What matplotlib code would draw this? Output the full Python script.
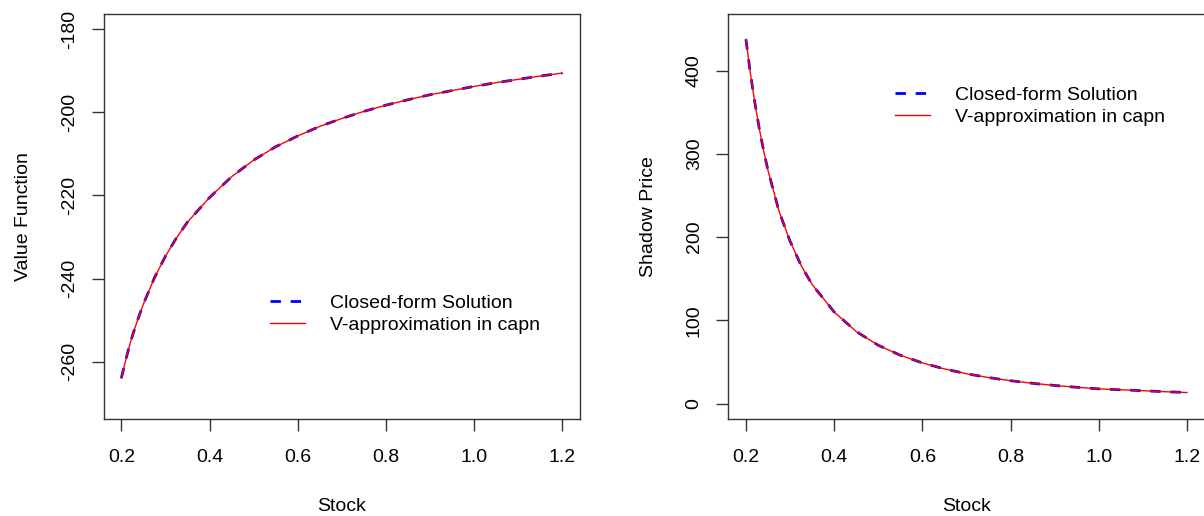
import matplotlib
matplotlib.use("Agg")
import matplotlib.pyplot as plt

plt.rcParams['font.family'] = ['Liberation Sans', 'DejaVu Sans']
plt.rcParams['font.size'] = 14
plt.rcParams['lines.scale_dashes'] = False
plt.rcParams['axes.unicode_minus'] = False

# values
stock = [0.2, 0.21, 0.22, 0.23, 0.24, 0.25, 0.275, 0.3, 0.325, 0.35, 0.4,
         0.45, 0.5, 0.55, 0.6, 0.65, 0.7, 0.75, 0.8, 0.85, 0.9, 0.95, 1.0,
         1.05, 1.1, 1.15, 1.2]

value_closed = [-263.9, -259.5, -255.5, -252.1, -249.0, -246.1, -239.8, -234.6,
                -230.2, -226.4, -220.5, -215.5, -211.5, -208.3, -205.7, -203.4,
                -201.5, -199.8, -198.3, -197.0, -195.8, -194.8, -193.8, -192.9,
                -192.1, -191.3, -190.6]
value_capn = value_closed

price_closed = [437.6, 397, 362, 331, 304, 280, 231, 195, 166, 143, 110, 86.5,
                70, 58, 48.8, 41.6, 35.8, 31.2, 27.4, 24.3, 21.7, 19.5, 17.6,
                16.5, 15.4, 14.2, 13.2]
price_capn = price_closed

x_ticks = [0.2, 0.4, 0.6, 0.8, 1.0, 1.2]
value_ticks = [-260, -240, -220, -200, -180]
price_ticks = [0, 100, 200, 300, 400]

legend_labels = ["Closed-form Solution", "V-approximation in capn"]

W, H = 1204, 516
fig = plt.figure(figsize=(W / 100, H / 100), dpi=100)
ax1 = fig.add_axes([103.7 / W, 1 - 418.5 / H, 476.3 / W, 404.5 / H])
ax2 = fig.add_axes([728.3 / W, 1 - 418.5 / H, 476.3 / W, 404.5 / H])


def style(ax, yticks):
    for sp in ax.spines.values():
        sp.set_color('#333333')
        sp.set_linewidth(1.0)
    ax.set_xticks(x_ticks)
    ax.set_xticklabels([f"{t:.1f}" for t in x_ticks])
    ax.set_yticks(yticks)
    ax.tick_params(direction='out', length=8.4, width=1.0, color='#333333',
                   labelsize=14)
    ax.tick_params(axis='x', pad=13.5)
    ax.tick_params(axis='y', pad=10)
    for lab in ax.get_yticklabels():
        lab.set_rotation(90)
        lab.set_va('center')


def draw(ax, closed, capn, ylim, yticks, ylabel, leg_xy):
    ax.plot(stock, closed, color='blue', lw=2.0, ls=(0, (7.5, 7.0)),
            label=legend_labels[0])
    ax.plot(stock, capn, color='red', lw=1.0, label=legend_labels[1])
    pad = 0.04 * (ylim[1] - ylim[0])
    ax.set_ylim(ylim[0] - pad, ylim[1] + pad)
    ax.set_xlim(0.2 - 0.04, 1.2 + 0.04)
    style(ax, yticks)
    ax.set_xlabel("Stock", labelpad=23)
    ax.set_ylabel(ylabel, labelpad=21)
    ax.legend(loc='upper left', frameon=False, borderpad=0, borderaxespad=0,
              handlelength=1.8, handletextpad=1.3, labelspacing=0.25,
              bbox_to_anchor=(leg_xy[0] / W, 1 - leg_xy[1] / H),
              bbox_transform=fig.transFigure)


draw(ax1, value_closed, value_capn, (-270, -180), value_ticks,
     "Value Function", (270, 294))
draw(ax2, price_closed, price_capn, (0, 450), price_ticks,
     "Shadow Price", (895, 86))

fig.savefig("out.png", dpi=100)
